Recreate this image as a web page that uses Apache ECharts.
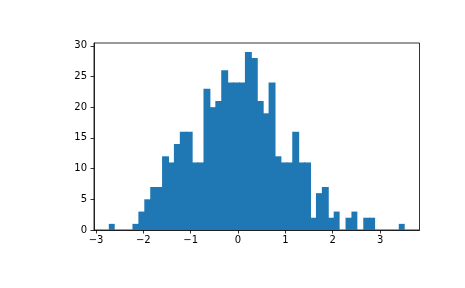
<!DOCTYPE html>
<html><head><meta charset="utf-8">
<script src="https://cdn.jsdelivr.net/npm/echarts@6/dist/echarts.min.js"></script>
<style>html,body{margin:0;padding:0;background:#fff}#c{width:465px;height:288px}</style>
</head><body><div id="c"></div>
<script>
// Histogram: 50 bins
const counts = [1,0,0,0,1,3,5,7,7,12,11,14,16,16,11,11,23,20,21,26,24,24,24,29,28,21,19,24,12,11,11,16,11,11,2,6,7,2,3,0,2,3,0,2,2,0,0,0,0,1];
const dataMin = -2.73;
const dataMax = 3.52;
const xTicks = [-3,-2,-1,0,1,2,3];
const yTicks = [0,5,10,15,20,25,30];

const nBins = counts.length;
const w = (dataMax - dataMin) / nBins;
const bars = counts.map((c,i)=>[dataMin + i*w, dataMin + (i+1)*w, c]);
const pad = (dataMax - dataMin) * 0.05;
const yMax = Math.max(...counts) * 1.05;

const chart = echarts.init(document.getElementById('c'), null, {renderer:'canvas'});
const font = 'DejaVu Sans';
chart.setOption({
  animation:false,
  grid:{left:94,right:45.5,top:43,bottom:58,show:true,borderColor:'#000',borderWidth:0.8,backgroundColor:'#fff'},
  xAxis:{type:'value',min:dataMin-pad,max:dataMax+pad,
    axisLine:{show:true,onZero:false,lineStyle:{color:'#000',width:0.8}},
    axisTick:{show:true,length:3.5,lineStyle:{color:'#000',width:0.8},customValues:xTicks},
    axisLabel:{color:'#000',fontFamily:font,fontSize:10,margin:5,customValues:xTicks,formatter:v=>v<0?'\u2212'+Math.abs(v):String(v)},
    splitLine:{show:false}},
  yAxis:{type:'value',min:0,max:yMax,
    axisLine:{show:true,onZero:false,lineStyle:{color:'#000',width:0.8}},
    axisTick:{show:true,length:3.5,lineStyle:{color:'#000',width:0.8},customValues:yTicks},
    axisLabel:{color:'#000',fontFamily:font,fontSize:10,margin:7,customValues:yTicks},
    splitLine:{show:false}},
  series:[{type:'custom',data:bars,z:1,
    renderItem:function(params,api){
      if (!(api.value(2) > 0)) return null;
      const p0 = api.coord([api.value(0),0]);
      const p1 = api.coord([api.value(1),api.value(2)]);
      const next = counts[params.dataIndex+1] > 0 ? 1 : 0;
      return {type:'rect',shape:{x:p0[0],y:p1[1],width:p1[0]-p0[0]+next,height:p0[1]-p1[1]},
        style:{fill:'#1f77b4',stroke:null,lineWidth:0}};
    },
    encode:{x:[0,1],y:2}}]
});
</script></body></html>
